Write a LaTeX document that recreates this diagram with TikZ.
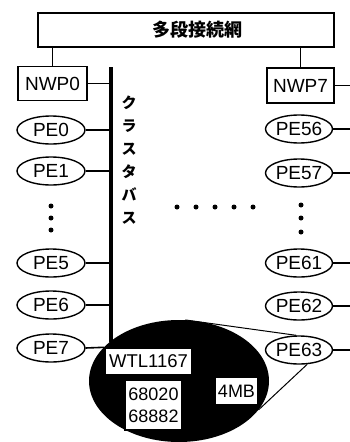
\documentclass[tikz,border=0pt]{standalone}
\usepackage{fontspec}
\setmainfont{Liberation Sans}
\newfontfamily\jp{Noto Sans CJK JP}
\usetikzlibrary{shapes.geometric}
\begin{document}
\begin{tikzpicture}[x=1pt,y=-1pt,
  box/.style={draw, line width=1.4pt, fill=white, inner sep=0pt, font=\fontsize{19}{19}\selectfont},
  pe/.style={draw, ellipse, line width=1.4pt, minimum width=68pt, minimum height=28pt, inner sep=0pt, font=\fontsize{19}{19}\selectfont},
  conn/.style={line width=1.6pt},
  bus/.style={line width=3.2pt},
  dotmark/.style={circle, fill, inner sep=0pt, minimum size=5pt},
  magline/.style={line width=1pt}]
\useasboundingbox (0,0) rectangle (350,442);
% magnified ellipse
\node[ellipse, fill=black, minimum width=180pt, minimum height=122pt, inner sep=0pt] (mag) at (179,381) {};
% top network box
\node[box, minimum width=296pt, minimum height=34pt] (net) at (186,30) {};
\node[font=\jp\bfseries\fontsize{18}{18}\selectfont] (netlabel) at (197,30) {多段接続網};
% NWP boxes
\node[box, minimum width=69pt, minimum height=34pt] (nwp0) at (52.5,83.5) {NWP0};
\node[box, minimum width=67pt, minimum height=35pt] (nwp7) at (300.5,85.5) {NWP7};
% left PEs
\node[pe] (pe0) at (51,130) {PE0};
\node[pe] (pe1) at (51,171) {PE1};
\node[pe] (pe5) at (51,263) {PE5};
\node[pe] (pe6) at (51,305) {PE6};
\node[pe] (pe7) at (51,348) {PE7};
% right PEs
\node[pe, minimum width=67pt] (pe56) at (299,129) {PE56};
\node[pe, minimum width=67pt] (pe57) at (299,173) {PE57};
\node[pe, minimum width=67pt] (pe61) at (299,263) {PE61};
\node[pe, minimum width=67pt] (pe62) at (299,306) {PE62};
\node[pe, minimum width=67pt] (pe63) at (299,350) {PE63};
% bus
\coordinate (bustop) at (111,67);
\coordinate (busbot) at (111,342);
\draw[bus] (bustop) -- (busbot);
\coordinate (rbus) at (350,0);
% connectors to top
\draw[conn] (nwp0.north) -- (nwp0.north |- net.south);
\draw[conn] (nwp7.north) -- (nwp7.north |- net.south);
% left connectors
\foreach \n in {nwp0,pe0,pe1,pe5,pe6}{
  \draw[conn] (\n.east) -- (\n.east -| bustop);
}
% right connectors
\foreach \n in {nwp7,pe56,pe57,pe61,pe62,pe63}{
  \draw[conn] (\n.east) -- (\n.east -| rbus);
}
% bus label
\node[font=\jp\bfseries\fontsize{15}{23}\selectfont, align=center, inner sep=0pt] (buslabel) at (129,160) {ク\\ラ\\ス\\タ\\バ\\ス};
% dots
\node[dotmark] (dl1) at (51,206) {};
\node[dotmark] (dl2) at (51,218) {};
\node[dotmark] (dl3) at (51,230) {};
\node[dotmark] (dr1) at (301,205) {};
\node[dotmark] (dr2) at (301,218) {};
\node[dotmark] (dr3) at (301,232) {};
\foreach \x [count=\i] in {177,196,215,234,253}{
  \node[dotmark] (dm\i) at (\x,207) {};
}
% magnifier lines
\draw[magline] (mag.84) -- (pe63.100);
\draw[magline] (mag.-20) -- (pe63.-60);
% inner boxes
\node[box, minimum width=87pt, minimum height=27pt, font=\fontsize{18.5}{18.5}\selectfont] (wtl) at (148.5,361.5) {WTL1167};
\node[box, minimum width=57pt, minimum height=50pt, align=center, font=\fontsize{18}{22}\selectfont] (cpu) at (153.5,405) {68020\\68882};
\node[box, minimum width=43pt, minimum height=28pt, font=\fontsize{18}{18}\selectfont] (mem) at (236.5,391) {4MB};
\draw[conn] (pe7.east) -- (wtl.north west);
\end{tikzpicture}
\end{document}
